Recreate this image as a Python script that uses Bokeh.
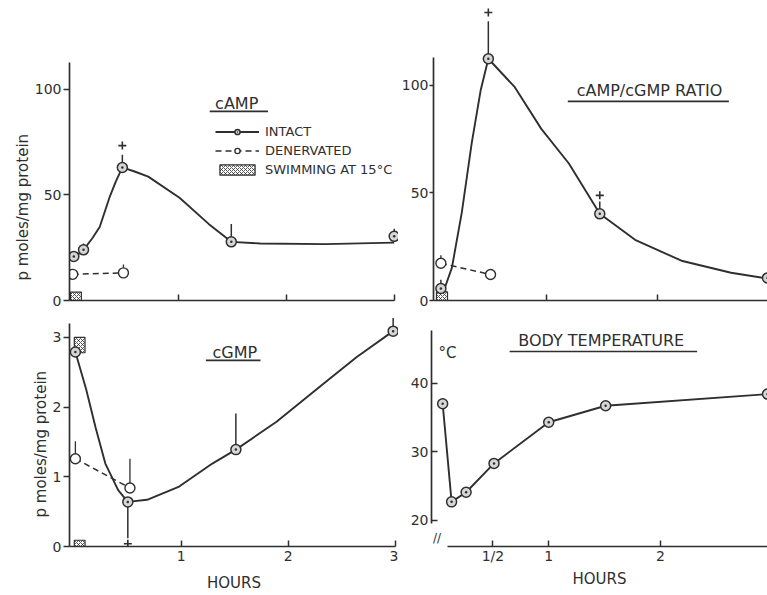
from bokeh.plotting import figure
from bokeh.layouts import column, row
from bokeh.models import Range1d, FixedTicker, Label, Legend, LegendItem, Title
from bokeh.embed import file_html
from bokeh.resources import INLINE

INK = "#2f2f2f"
FONT = "DejaVu Sans"

# ---------------- data ----------------
# cAMP (p moles/mg protein) vs hours
camp_int_x = [0.03, 0.12, 0.48, 1.49, 3.0]
camp_int_y = [20.9, 24.0, 63.0, 27.8, 30.4]
camp_err_x = [0.12, 0.48, 1.49, 3.0]
camp_err_lo = [24.0, 63.0, 27.8, 30.4]
camp_err_hi = [27.0, 69.0, 36.3, 34.0]
camp_sig_x = [0.48]
camp_sig_y = [73.4]
camp_den_x = [0.02, 0.49]
camp_den_y = [12.4, 13.1]
camp_den_err_x = [0.49]
camp_den_err_lo = [13.1]
camp_den_err_hi = [17.0]
camp_curve_x = [0.03, 0.12, 0.20, 0.27, 0.36, 0.42, 0.48, 0.60, 0.72, 1.01, 1.28, 1.49, 1.76, 2.36, 3.0]
camp_curve_y = [20.1, 24.0, 29.4, 34.8, 48.7, 56.4, 63.1, 61.0, 58.7, 48.7, 36.3, 27.8, 27.0, 26.7, 27.4]
camp_swim_lo = [0.0]
camp_swim_hi = [4.0]

# cAMP/cGMP ratio
ratio_int_x = [0.04, 0.47, 1.48, 3.0]
ratio_int_y = [5.6, 112.4, 40.3, 10.5]
ratio_err_x = [0.04, 0.47, 1.48]
ratio_err_lo = [5.6, 112.4, 40.3]
ratio_err_hi = [9.7, 129.8, 46.0]
ratio_sig_x = [0.47, 1.48]
ratio_sig_y = [133.9, 48.9]
ratio_den_x = [0.04, 0.49]
ratio_den_y = [17.3, 12.1]
ratio_den_err_x = [0.04]
ratio_den_err_lo = [17.3]
ratio_den_err_hi = [21.0]
ratio_curve_x = [0.04, 0.08, 0.14, 0.23, 0.32, 0.40, 0.47, 0.71, 0.95, 1.20, 1.48, 1.80, 2.22, 2.67, 3.0]
ratio_curve_y = [5.6, 6.5, 15.3, 41.1, 73.4, 97.6, 112.4, 99.2, 79.8, 63.7, 40.3, 28.2, 18.5, 12.9, 10.2]
ratio_swim_lo = [0.0]
ratio_swim_hi = [4.0]

# cGMP (p moles/mg protein)
cgmp_int_x = [0.01, 0.50, 1.51, 2.98]
cgmp_int_y = [2.79, 0.64, 1.39, 3.09]
cgmp_err_x = [0.50, 1.51, 2.98]
cgmp_err_lo = [0.64, 1.39, 3.09]
cgmp_err_hi = [0.12, 1.91, 3.28]
cgmp_sig_x = [0.50]
cgmp_sig_y = [0.04]
cgmp_den_x = [0.01, 0.52]
cgmp_den_y = [1.26, 0.84]
cgmp_den_err_x = [0.01, 0.52]
cgmp_den_err_lo = [1.26, 0.84]
cgmp_den_err_hi = [1.51, 1.26]
cgmp_curve_x = [0.01, 0.11, 0.20, 0.29, 0.41, 0.50, 0.68, 0.98, 1.29, 1.51, 1.89, 2.34, 2.64, 2.98]
cgmp_curve_y = [2.79, 2.26, 1.70, 1.19, 0.81, 0.64, 0.67, 0.86, 1.19, 1.39, 1.79, 2.35, 2.72, 3.09]
cgmp_swim_lo = [0.0, 2.78]
cgmp_swim_hi = [0.09, 3.0]

# body temperature (deg C)
temp_x = [0.05, 0.13, 0.26, 0.51, 1.0, 1.51, 2.96]
temp_y = [37.0, 22.7, 24.1, 28.3, 34.3, 36.7, 38.4]

SWIM_W = 0.1  # width of the hatched "swimming" boxes (hours)


def make_fig(w, h, xr, yr, mbl, mbt, mbb):
    p = figure(width=w, height=h, x_range=Range1d(*xr), y_range=Range1d(*yr),
               output_backend="svg", toolbar_location=None,
               min_border_left=mbl, min_border_right=0,
               min_border_top=mbt, min_border_bottom=mbb)
    p.outline_line_color = None
    p.grid.visible = False
    p.background_fill_color = "white"
    p.border_fill_color = "white"
    return p


def style_axes(p, xticks, yticks, xbounds, ybounds, show_xlabels=True,
               ytick_in=0, ytick_out=6, ystandoff=2, xstandoff=0,
               xlabel=None, xlabel_standoff=0, overrides=None):
    xa = p.xaxis[0]
    ya = p.yaxis[0]
    for ax in (xa, ya):
        ax.axis_line_color = INK
        ax.axis_line_width = 1.7
        ax.major_tick_line_color = INK
        ax.major_tick_line_width = 1.5
        ax.minor_tick_line_color = None
        ax.minor_tick_in = 0
        ax.minor_tick_out = 0
        ax.major_label_text_font = FONT
        ax.major_label_text_color = INK
        ax.major_label_text_font_size = "14px"
        ax.axis_label_text_font = FONT
        ax.axis_label_text_color = INK
        ax.axis_label_text_font_style = "normal"
        ax.axis_label = None
        ax.axis_label_standoff = 0
    xa.ticker = FixedTicker(ticks=xticks)
    ya.ticker = FixedTicker(ticks=yticks)
    xa.bounds = xbounds
    ya.bounds = ybounds
    xa.major_tick_in = 6
    xa.major_tick_out = 0
    xa.major_label_standoff = xstandoff
    ya.major_tick_in = ytick_in
    ya.major_tick_out = ytick_out
    ya.major_label_standoff = ystandoff
    if not show_xlabels:
        xa.major_label_text_font_size = "1px"
        xa.major_label_text_color = None
    if overrides:
        xa.major_label_overrides = overrides
    if xlabel:
        xa.axis_label = xlabel
        xa.axis_label_standoff = xlabel_standoff
        xa.axis_label_text_font_size = "15px"


def ylabel(p, text, offset):
    p.add_layout(Title(text=text, align="left", offset=offset, standoff=0,
                       text_font=FONT, text_font_size="15px", text_font_style="normal",
                       text_color=INK), "left")


def title(p, text, x, y, ux0, ux1, uy, size="16px"):
    p.add_layout(Label(x=x, y=y, text=text, text_align="center", text_baseline="middle",
                       text_font=FONT, text_font_size=size, text_color=INK))
    p.segment(x0=[ux0], y0=[uy], x1=[ux1], y1=[uy], line_color=INK, line_width=1.6)


def swim(p, lo, hi):
    return p.quad(left=[0.0] * len(lo), right=[SWIM_W] * len(lo), bottom=lo, top=hi,
                  fill_color="white", line_color=INK, line_width=1.2,
                  hatch_pattern="x", hatch_color=INK, hatch_scale=4, hatch_weight=0.8)


def intact(p, cx, cy, px, py, ex, elo, ehi, sx, sy):
    lr = p.line(cx, cy, line_color=INK, line_width=1.9)
    p.segment(x0=ex, y0=elo, x1=ex, y1=ehi, line_color=INK, line_width=1.5)
    if sx:
        p.scatter(sx, sy, marker="cross", size=8, line_color=INK, line_width=1.6)
    sr = p.scatter(px, py, marker="circle_dot", size=10, line_color=INK,
                   fill_color="#d6d6d6", line_width=1.5)
    return lr, sr


def denerv(p, dx, dy, ex, elo, ehi):
    p.segment(x0=ex, y0=elo, x1=ex, y1=ehi, line_color=INK, line_width=1.3)
    lr = p.line(dx, dy, line_color=INK, line_width=1.5, line_dash="6 4")
    sr = p.scatter(dx, dy, marker="circle", size=10, line_color=INK,
                   fill_color="white", line_width=1.4)
    return lr, sr


# frames of a row are aligned by the layout: both top panels end at y=300 px,
# both bottom panels at y=546 px

# ---------------- panel 1: cAMP ----------------
p1 = make_fig(398, 314, (-0.01, 3.04), (0, 139.3), 69, 6, 14)
style_axes(p1, [1, 2, 3], [0, 50, 100], (-0.01, 3.0), (0, 113), show_xlabels=False,
           ytick_out=6, ystandoff=2)
s1 = swim(p1, camp_swim_lo, camp_swim_hi)
dl1, ds1 = denerv(p1, camp_den_x, camp_den_y, camp_den_err_x, camp_den_err_lo, camp_den_err_hi)
il1, is1 = intact(p1, camp_curve_x, camp_curve_y, camp_int_x, camp_int_y,
                  camp_err_x, camp_err_lo, camp_err_hi, camp_sig_x, camp_sig_y)
title(p1, "cAMP", 1.54, 93.4, 1.29, 1.83, 89.6)
ylabel(p1, "p moles/mg protein", 20)
legend = Legend(items=[LegendItem(label="INTACT", renderers=[il1, is1]),
                       LegendItem(label="DENERVATED", renderers=[dl1, ds1]),
                       LegendItem(label="SWIMMING AT 15°C", renderers=[s1])],
                location=(146, 122), orientation="vertical",
                label_text_font=FONT, label_text_font_size="13px", label_text_color=INK,
                glyph_width=44, glyph_height=13, label_height=18, label_standoff=6,
                spacing=1, padding=0, margin=0,
                background_fill_alpha=0, border_line_alpha=0)
p1.add_layout(legend)

# ---------------- panel 2: cAMP/cGMP ratio ----------------
p2 = make_fig(369, 314, (-0.027, 3.0), (0, 136.7), 33, 6, 14)
style_axes(p2, [1, 2], [0, 50, 100], (-0.027, 3.0), (0, 113), show_xlabels=False,
           ytick_out=4, ystandoff=1)
swim(p2, ratio_swim_lo, ratio_swim_hi)
denerv(p2, ratio_den_x, ratio_den_y, ratio_den_err_x, ratio_den_err_lo, ratio_den_err_hi)
intact(p2, ratio_curve_x, ratio_curve_y, ratio_int_x, ratio_int_y,
       ratio_err_x, ratio_err_lo, ratio_err_hi, ratio_sig_x, ratio_sig_y)
title(p2, "cAMP/cGMP RATIO", 1.93, 97.7, 1.19, 2.65, 92.6)

# ---------------- panel 3: cGMP ----------------
p3 = make_fig(398, 281, (-0.045, 3.03), (0, 3.30), 69, 2, 49)
style_axes(p3, [1, 2, 3], [0, 1, 2, 3], (-0.045, 3.0), (0, 3.2),
           ytick_out=6, ystandoff=2, xstandoff=4, xlabel="HOURS", xlabel_standoff=10)
swim(p3, cgmp_swim_lo, cgmp_swim_hi)
denerv(p3, cgmp_den_x, cgmp_den_y, cgmp_den_err_x, cgmp_den_err_lo, cgmp_den_err_hi)
intact(p3, cgmp_curve_x, cgmp_curve_y, cgmp_int_x, cgmp_int_y,
       cgmp_err_x, cgmp_err_lo, cgmp_err_hi, cgmp_sig_x, cgmp_sig_y)
title(p3, "cGMP", 1.50, 2.78, 1.23, 1.74, 2.67)
ylabel(p3, "p moles/mg protein", 29)

# ---------------- panel 4: body temperature ----------------
p4 = make_fig(369, 281, (-0.05, 2.96), (16.2, 49.7), 33, 2, 49)
style_axes(p4, [0.5, 1, 2], [20, 30, 40], (0.09, 2.96), (19.5, 47.7),
           ytick_in=6, ytick_out=0, ystandoff=3, xstandoff=1,
           xlabel="HOURS", xlabel_standoff=3, overrides={0.5: "1/2", 1: "1", 2: "2"})
p4.line(temp_x, temp_y, line_color=INK, line_width=1.9)
p4.scatter(temp_x, temp_y, marker="circle_dot", size=10, line_color=INK,
           fill_color="#d6d6d6", line_width=1.5)
title(p4, "BODY TEMPERATURE", 1.47, 46.2, 0.65, 2.33, 44.6)
p4.add_layout(Label(x=0.093, y=44.45, text="°C", text_align="center", text_baseline="middle",
                    text_font=FONT, text_font_size="15px", text_color=INK))
p4.add_layout(Label(x=0.0, y=17.4, text="//", text_align="center", text_baseline="middle",
                    text_font=FONT, text_font_size="12px", text_color=INK))

layout = column(row(p1, p2), row(p3, p4))

open("out.html", "w").write(file_html(layout, INLINE))
